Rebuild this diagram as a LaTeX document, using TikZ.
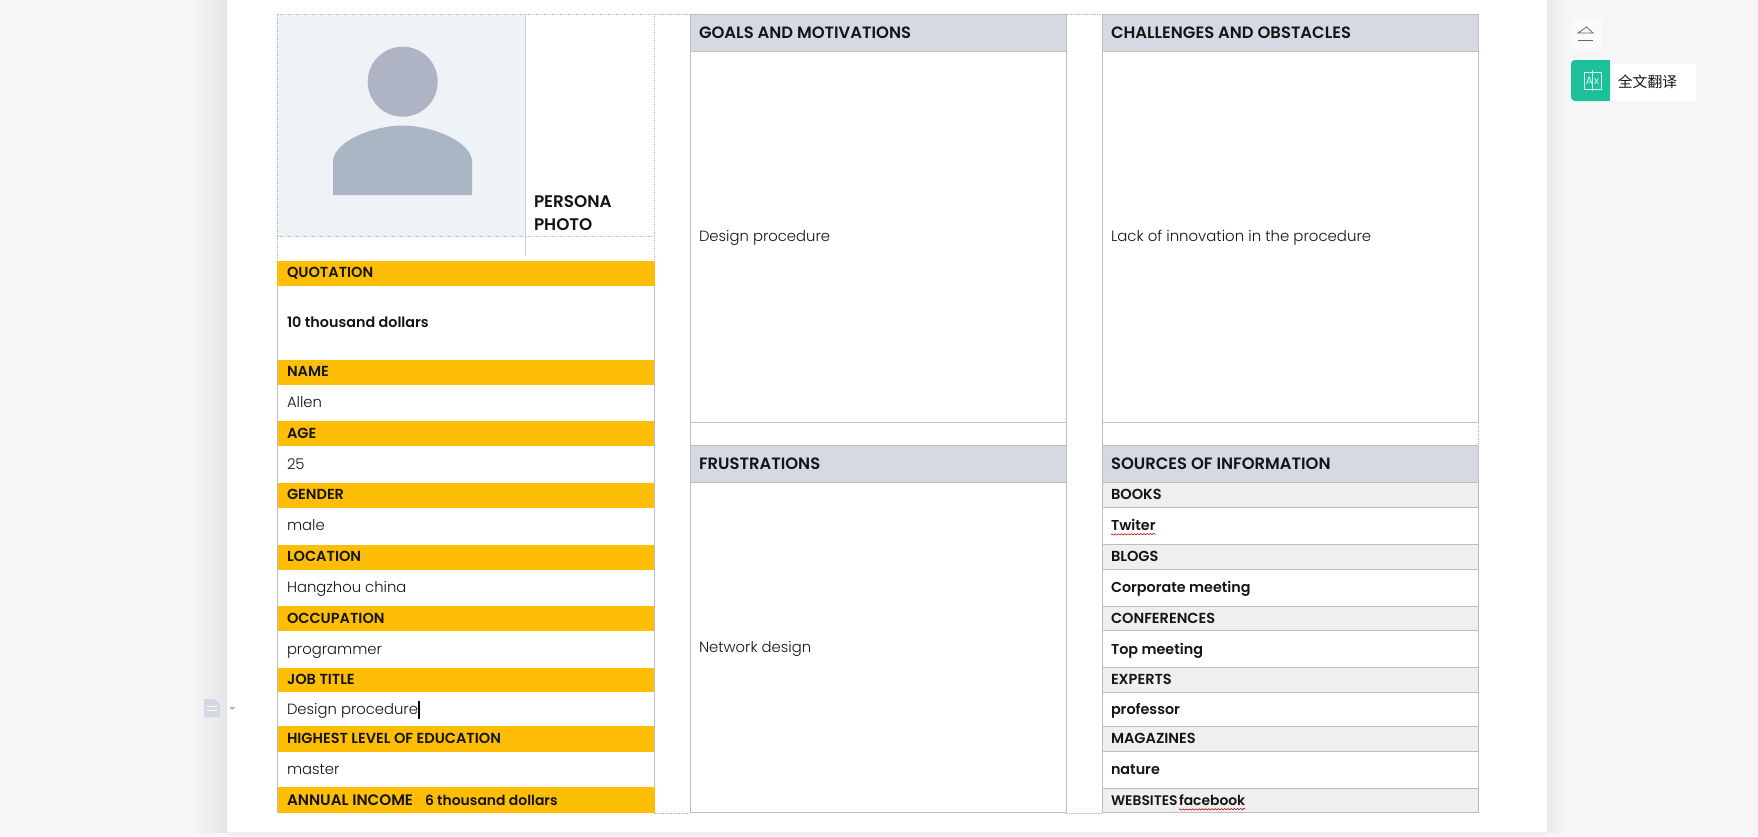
\documentclass[tikz,border=0pt]{standalone}
\usepackage{fontspec}
\setmainfont{Poppins}[UprightFont=* Light,BoldFont=* SemiBold]
\newfontfamily\cjkf{Noto Sans CJK SC}
\usetikzlibrary{decorations.pathmorphing}
\definecolor{pagegrey}{HTML}{F6F6F6}
\definecolor{amber}{HTML}{FEBE06}
\definecolor{headgrey}{HTML}{D5D9E2}
\definecolor{rowgrey}{HTML}{EFEFF0}
\definecolor{rule}{HTML}{BDBDC0}
\definecolor{photobg}{HTML}{EEF3F8}
\definecolor{headtone}{HTML}{AEB4C4}
\definecolor{avatar}{HTML}{AAB6C4}
\definecolor{mint}{HTML}{1CC09A}
\definecolor{iconblue}{HTML}{D3D9E2}
\tikzset{
  x=0.75pt,y=-0.75pt,
  every node/.style={inner sep=0pt,outer sep=0pt,text=black!92,yshift=-0.4pt},
  lab/.style={anchor=base west,font=\fontsize{10.9}{12}\bfseries},
  val/.style={anchor=base west,font=\fontsize{11.1}{12}\selectfont},
  valb/.style={anchor=base west,font=\fontsize{10.75}{12}\bfseries},
  head/.style={anchor=base west,font=\fontsize{12.3}{13}\bfseries},
  solidrule/.style={draw=rule,line width=0.6pt},
  dotrule/.style={draw=rule,line width=0.6pt,dash pattern=on 1.2pt off 0.8pt},
  squiggle/.style={draw=red!70!black,line width=0.4pt,decorate,decoration={snake,amplitude=0.5pt,segment length=2.4pt}}
}
\begin{document}
\begin{tikzpicture}
\useasboundingbox (0,0) rectangle (1758,836);
% page and margins
\fill[pagegrey] (0,0) rectangle (1758,836);
\shade[left color=pagegrey,right color=black!10] (190,0) rectangle (227,832);
\shade[left color=black!8,right color=pagegrey] (1547,0) rectangle (1567,832);
\fill[white] (227,0) rectangle (1547,832);
\fill[black!6] (227,832) rectangle (1547,836);
% photo
\fill[photobg] (277.5,14) rectangle (525,236);
\fill[headtone] (402.7,81.7) circle[radius=35];
\fill[avatar] (333,195) -- (333,160) .. controls (336,140) and (375,125.5) .. (402.7,125.5) .. controls (430,125.5) and (469,140) .. (472,160) -- (472,195) -- cycle;
% left table
\foreach \a/\b in {261/286,360/385,421/446,483/508,545/570,606/631,667.5/692,726/752,787/813}
  \fill[amber] (277,\a) rectangle (654.5,\b);
\draw[dotrule] (277.5,14) -- (654,14) -- (654,260);
\draw[dotrule] (277.5,14) -- (277.5,260);
\draw[dotrule] (277.5,236) -- (654,236);
\draw[draw=rule!70,line width=0.5pt] (525.5,14) -- (525.5,256);
\draw[solidrule] (277.5,286) -- (277.5,813);
\draw[solidrule] (654,286) -- (654,787);
\draw[dotrule] (654,14) -- (1102,14);
\draw[dotrule] (654,813) -- (690,813);
\draw[dotrule] (1066,813) -- (1102,813);
% middle and right headers
\fill[headgrey] (690,14) rectangle (1066,51.5);
\fill[headgrey] (1102.5,14) rectangle (1478,51.5);
\fill[headgrey] (690,445.5) rectangle (1066,482.5);
\fill[headgrey] (1102.5,445.5) rectangle (1478,482.5);
\foreach \a/\b in {482.5/507,544/569,606/630,667/692,726/751,788/812.5}
  \fill[rowgrey] (1102.5,\a) rectangle (1478,\b);
% rules of the two right columns
\foreach \xx in {690,1066,1102.5} \draw[solidrule] (\xx,14) -- (\xx,813);
\draw[solidrule] (1478,14) -- (1478,422);
\draw[dotrule] (1478,422) -- (1478,446);
\draw[solidrule] (1478,446) -- (1478,813);
\foreach \a/\b in {690/1066,1102.5/1478} {
  \draw[solidrule] (\a,14) -- (\b,14);
  \draw[solidrule] (\a,51.5) -- (\b,51.5);
  \draw[solidrule] (\a,422) -- (\b,422);
  \draw[solidrule] (\a,445.5) -- (\b,445.5);
  \draw[solidrule] (\a,482.5) -- (\b,482.5);
  \draw[solidrule] (\a,812.5) -- (\b,812.5);
}
\foreach \yy in {507,544,569,606,630,667,692,726,751,788}
  \draw[solidrule] (1102.5,\yy) -- (1478,\yy);
% left texts
\node[anchor=base west,font=\fontsize{12.6}{14}\bfseries] (persona) at (534,207) {PERSONA};
\node[anchor=base west,font=\fontsize{12.6}{14}\bfseries] (photo) at (534,230) {PHOTO};
\node[lab] (quot) at (287,277) {QUOTATION};
\node[valb] (quotv) at (287,327) {10 thousand dollars};
\node[lab] (name) at (287,376) {NAME};
\node[val] (namev) at (287,407) {Allen};
\node[lab] (age) at (287,438) {AGE};
\node[val] (agev) at (287,469) {25};
\node[lab] (gender) at (287,499) {GENDER};
\node[val] (genderv) at (287,530) {male};
\node[lab] (loc) at (287,561) {LOCATION};
\node[val] (locv) at (287,592) {Hangzhou china};
\node[lab] (occ) at (287,623) {OCCUPATION};
\node[val] (occv) at (287,654) {programmer};
\node[lab] (job) at (287,684) {JOB TITLE};
\node[val] (jobv) at (287,714) {Design procedure};
\draw[black,line width=1.1pt] (jobv.base east) ++(1,4) -- ++(0,-18);
\node[lab] (edu) at (287,743) {HIGHEST LEVEL OF EDUCATION};
\node[val] (eduv) at (287,774) {master};
\node[lab,font=\fontsize{11.4}{12}\bfseries] (inc) at (287,805) {ANNUAL INCOME};
\node[valb,font=\fontsize{10.45}{12}\bfseries] (incv) at (425,805) {6 thousand dollars};
% middle
\node[head] (goals) at (699,38) {GOALS AND MOTIVATIONS};
\node[val] (goalsv) at (699,241) {Design procedure};
\node[head] (frus) at (699,469) {FRUSTRATIONS};
\node[val] (frusv) at (699,652) {Network design};
% right
\node[head] (chal) at (1111,38) {CHALLENGES AND OBSTACLES};
\node[val,font=\fontsize{11.2}{12}\selectfont] (chalv) at (1111,241) {Lack of innovation in the procedure};
\node[head] (src) at (1111,469) {SOURCES OF INFORMATION};
\node[lab] (books) at (1111,499) {BOOKS};
\node[valb] (twit) at (1111,530) {Twiter};
\draw[squiggle] (twit.base west) ++(0,4) -- (twit.base east |- 0,534);
\node[lab] (blogs) at (1111,561) {BLOGS};
\node[valb] (corp) at (1111,592) {Corporate meeting};
\node[lab] (conf) at (1111,623) {CONFERENCES};
\node[valb] (top) at (1111,654) {Top meeting};
\node[lab] (exp) at (1111,684) {EXPERTS};
\node[valb] (prof) at (1111,714) {professor};
\node[lab] (mag) at (1111,743) {MAGAZINES};
\node[valb] (nat) at (1111,774) {nature};
\node[lab,font=\fontsize{10.4}{12}\bfseries] (web) at (1111,805) {WEBSITES};
\node[lab,font=\fontsize{10.4}{12}\bfseries] (fb) at (1179,805) {facebook};
\draw[squiggle] (fb.base west) ++(0,4) -- (fb.base east |- 0,809);
% document icon in the margin
\fill[iconblue] (204,699) -- (215,699) -- (220,704) -- (220,717) -- (204,717) -- cycle;
\draw[white,line width=0.7pt] (207,706) -- (217,706) (207,710) -- (217,710);
\fill[black!30] (229.5,707) -- (235,707) -- (232.2,710) -- cycle;
% side tools
\fill[black!2] (1572,18) rectangle (1602,50);
\draw[black!60,line width=0.6pt] (1578,33) -- (1586.5,27) -- (1593,33) -- cycle;
\draw[black!60,line width=0.6pt] (1578,40) -- (1593,40);
\fill[black!3] (1610,66) rectangle (1699,103);
\fill[white] (1610,64) rectangle (1696,101);
\fill[mint,rounded corners=3pt] (1571,60) rectangle (1610,101);
\fill[mint] (1600,60) rectangle (1610,101);
\draw[white!85!mint,line width=0.6pt] (1584,72) rectangle (1601,89) (1592.5,70) -- (1592.5,91);
\node[font=\fontsize{8}{8}\selectfont,text=white] (ax) at (1592.5,80.5) {A\hspace{1pt}x};
\node[anchor=center,font=\cjkf\fontsize{11.1}{13}\selectfont] (tr) at (1647.5,81) {全文翻译};
\end{tikzpicture}
\end{document}
